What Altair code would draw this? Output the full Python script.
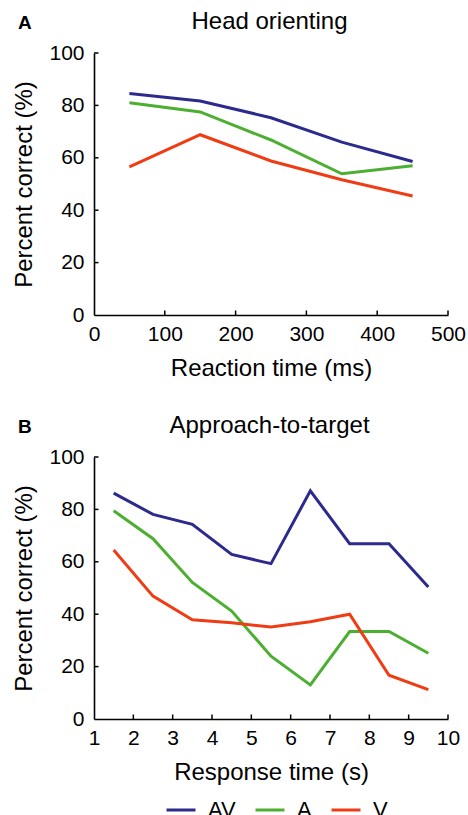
import altair as alt
import pandas as pd

FONT = "Liberation Sans"

series = ["AV", "A", "V"]
colors = ["#2c2a8c", "#4caf32", "#f03c14"]

# Panel A: Head orienting
rt_ms = [50, 150, 250, 350, 450]
head_av = [84.5, 81.7, 75.3, 66.0, 58.6]
head_a = [81.0, 77.5, 66.8, 53.9, 57.0]
head_v = [56.5, 68.8, 58.8, 51.6, 45.4]

# Panel B: Approach-to-target
resp_s = [1.5, 2.5, 3.5, 4.5, 5.5, 6.5, 7.5, 8.5, 9.5]
appr_av = [86.2, 78.1, 74.3, 62.8, 59.3, 87.1, 66.9, 66.9, 50.4]
appr_a = [79.5, 68.8, 52.1, 41.2, 24.0, 13.0, 33.4, 33.4, 25.1]
appr_v = [64.5, 46.9, 37.9, 36.7, 35.1, 37.1, 40.0, 16.7, 11.2]

y_ticks = [0, 20, 40, 60, 80, 100]
xa_ticks = [0, 100, 200, 300, 400, 500]
xb_ticks = [1, 2, 3, 4, 5, 6, 7, 8, 9, 10]

W, H = 354, 262


def long_df(xs, av, a, v):
    rows = []
    for name, vals in zip(series, [av, a, v]):
        for x, y in zip(xs, vals):
            rows.append({"x": x, "y": y, "s": name})
    return pd.DataFrame(rows)


def panel(df, xdom, xticks, xtitle, title, letter):
    xscale = alt.Scale(domain=xdom, nice=False, zero=False)
    yscale = alt.Scale(domain=[0, 100], nice=False)
    xaxis = alt.Axis(
        title=xtitle,
        values=xticks,
        format="d",
        ticks=False,
        labelPadding=8,
        labelFlush=False,
        labelOverlap=False,
        titlePadding=12,
    )
    yaxis = alt.Axis(
        title="Percent correct (%)",
        values=y_ticks,
        format="d",
        ticks=False,
        labelPadding=10,
        labelOverlap=False,
        titlePadding=12,
    )
    color = alt.Color(
        "s:N",
        scale=alt.Scale(domain=series, range=colors),
        sort=series,
        legend=alt.Legend(
            title=None,
            orient="none",
            direction="horizontal",
            legendX=71,
            legendY=741,
            symbolType="stroke",
            symbolSize=841,
            symbolStrokeWidth=3,
            labelFont=FONT,
            labelFontSize=22,
            labelColor="black",
            labelOffset=11,
            columnPadding=13,
            padding=0,
        ),
    )
    lines = alt.Chart(df).mark_line(strokeWidth=3).encode(
        x=alt.X("x:Q", scale=xscale, axis=xaxis),
        y=alt.Y("y:Q", scale=yscale, axis=yaxis),
        color=color,
        order="x:Q",
    )
    xt = alt.Chart(pd.DataFrame({"v": xticks[1:]})).mark_rule(
        color="black", strokeWidth=1.5
    ).encode(x=alt.X("v:Q", scale=xscale, axis=xaxis), y=alt.value(H), y2=alt.value(H - 4.5))
    yt = alt.Chart(pd.DataFrame({"v": y_ticks[1:]})).mark_rule(
        color="black", strokeWidth=1.5
    ).encode(y=alt.Y("v:Q", scale=yscale, axis=yaxis), x=alt.value(0), x2=alt.value(4.5))
    ttl = alt.Chart(pd.DataFrame({"t": [title]})).mark_text(
        font=FONT, fontSize=24, color="black", align="center", baseline="alphabetic"
    ).encode(text="t:N", x=alt.value(175.5), y=alt.value(-24.5))
    let = alt.Chart(pd.DataFrame({"t": [letter]})).mark_text(
        font=FONT, fontSize=19, fontWeight="bold", color="black", align="left",
        baseline="alphabetic"
    ).encode(text="t:N", x=alt.value(-76), y=alt.value(-24.5))
    return alt.layer(lines, xt, yt, ttl, let).properties(width=W, height=H)


pa = panel(long_df(rt_ms, head_av, head_a, head_v), [0, 500], xa_ticks,
           "Reaction time (ms)", "Head orienting", "A")
pb = panel(long_df(resp_s, appr_av, appr_a, appr_v), [1, 10], xb_ticks,
           "Response time (s)", "Approach-to-target", "B")

chart = alt.vconcat(pa, pb, spacing=142, bounds="flush").properties(
    padding={"left": 12, "top": 9, "right": 0, "bottom": 0}
).configure_view(stroke=None).configure_axis(
    grid=False,
    domainColor="black",
    domainWidth=1.6,
    labelFont=FONT,
    labelFontSize=21,
    labelColor="black",
    titleFont=FONT,
    titleFontSize=24,
    titleFontWeight="normal",
    titleColor="black",
)

chart.save("out.html", embed_options={"renderer": "svg", "actions": False})
